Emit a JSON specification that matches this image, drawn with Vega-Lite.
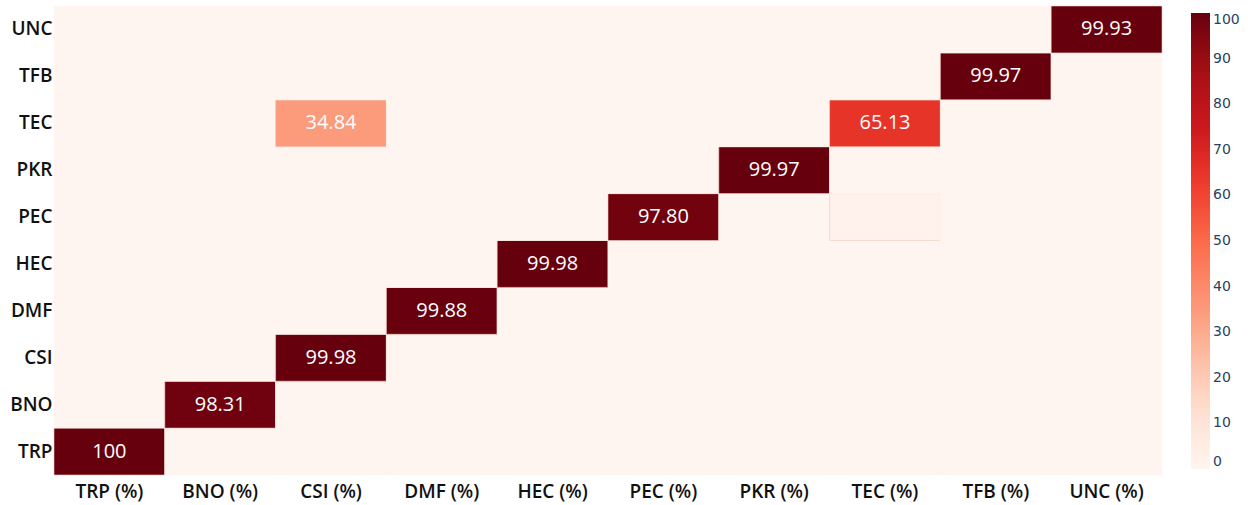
{
  "$schema": "https://vega.github.io/schema/vega-lite/v6.json",
  "autosize": {"type": "none"},
  "width": 1108,
  "height": 469,
  "padding": {"left": 54, "top": 6, "right": 86, "bottom": 30},
  "background": "white",
  "config": {"view": {"stroke": null}},
  "data": {"values": [
    {"x": "TRP (%)", "y": "TRP", "value": 100, "label": "100"},
    {"x": "BNO (%)", "y": "TRP", "value": 0, "label": ""},
    {"x": "CSI (%)", "y": "TRP", "value": 0, "label": ""},
    {"x": "DMF (%)", "y": "TRP", "value": 0, "label": ""},
    {"x": "HEC (%)", "y": "TRP", "value": 0, "label": ""},
    {"x": "PEC (%)", "y": "TRP", "value": 0, "label": ""},
    {"x": "PKR (%)", "y": "TRP", "value": 0, "label": ""},
    {"x": "TEC (%)", "y": "TRP", "value": 0, "label": ""},
    {"x": "TFB (%)", "y": "TRP", "value": 0, "label": ""},
    {"x": "UNC (%)", "y": "TRP", "value": 0, "label": ""},
    {"x": "TRP (%)", "y": "BNO", "value": 0, "label": ""},
    {"x": "BNO (%)", "y": "BNO", "value": 98.31, "label": "98.31"},
    {"x": "CSI (%)", "y": "BNO", "value": 0, "label": ""},
    {"x": "DMF (%)", "y": "BNO", "value": 0, "label": ""},
    {"x": "HEC (%)", "y": "BNO", "value": 0, "label": ""},
    {"x": "PEC (%)", "y": "BNO", "value": 0, "label": ""},
    {"x": "PKR (%)", "y": "BNO", "value": 0, "label": ""},
    {"x": "TEC (%)", "y": "BNO", "value": 0, "label": ""},
    {"x": "TFB (%)", "y": "BNO", "value": 0, "label": ""},
    {"x": "UNC (%)", "y": "BNO", "value": 0, "label": ""},
    {"x": "TRP (%)", "y": "CSI", "value": 0, "label": ""},
    {"x": "BNO (%)", "y": "CSI", "value": 0, "label": ""},
    {"x": "CSI (%)", "y": "CSI", "value": 99.98, "label": "99.98"},
    {"x": "DMF (%)", "y": "CSI", "value": 0, "label": ""},
    {"x": "HEC (%)", "y": "CSI", "value": 0, "label": ""},
    {"x": "PEC (%)", "y": "CSI", "value": 0, "label": ""},
    {"x": "PKR (%)", "y": "CSI", "value": 0, "label": ""},
    {"x": "TEC (%)", "y": "CSI", "value": 0, "label": ""},
    {"x": "TFB (%)", "y": "CSI", "value": 0, "label": ""},
    {"x": "UNC (%)", "y": "CSI", "value": 0, "label": ""},
    {"x": "TRP (%)", "y": "DMF", "value": 0, "label": ""},
    {"x": "BNO (%)", "y": "DMF", "value": 0, "label": ""},
    {"x": "CSI (%)", "y": "DMF", "value": 0, "label": ""},
    {"x": "DMF (%)", "y": "DMF", "value": 99.88, "label": "99.88"},
    {"x": "HEC (%)", "y": "DMF", "value": 0, "label": ""},
    {"x": "PEC (%)", "y": "DMF", "value": 0, "label": ""},
    {"x": "PKR (%)", "y": "DMF", "value": 0, "label": ""},
    {"x": "TEC (%)", "y": "DMF", "value": 0, "label": ""},
    {"x": "TFB (%)", "y": "DMF", "value": 0, "label": ""},
    {"x": "UNC (%)", "y": "DMF", "value": 0, "label": ""},
    {"x": "TRP (%)", "y": "HEC", "value": 0, "label": ""},
    {"x": "BNO (%)", "y": "HEC", "value": 0, "label": ""},
    {"x": "CSI (%)", "y": "HEC", "value": 0, "label": ""},
    {"x": "DMF (%)", "y": "HEC", "value": 0, "label": ""},
    {"x": "HEC (%)", "y": "HEC", "value": 99.98, "label": "99.98"},
    {"x": "PEC (%)", "y": "HEC", "value": 0, "label": ""},
    {"x": "PKR (%)", "y": "HEC", "value": 0, "label": ""},
    {"x": "TEC (%)", "y": "HEC", "value": 0, "label": ""},
    {"x": "TFB (%)", "y": "HEC", "value": 0, "label": ""},
    {"x": "UNC (%)", "y": "HEC", "value": 0, "label": ""},
    {"x": "TRP (%)", "y": "PEC", "value": 0, "label": ""},
    {"x": "BNO (%)", "y": "PEC", "value": 0, "label": ""},
    {"x": "CSI (%)", "y": "PEC", "value": 0, "label": ""},
    {"x": "DMF (%)", "y": "PEC", "value": 0, "label": ""},
    {"x": "HEC (%)", "y": "PEC", "value": 0, "label": ""},
    {"x": "PEC (%)", "y": "PEC", "value": 97.8, "label": "97.80"},
    {"x": "PKR (%)", "y": "PEC", "value": 0, "label": ""},
    {"x": "TEC (%)", "y": "PEC", "value": 2.2, "label": ""},
    {"x": "TFB (%)", "y": "PEC", "value": 0, "label": ""},
    {"x": "UNC (%)", "y": "PEC", "value": 0, "label": ""},
    {"x": "TRP (%)", "y": "PKR", "value": 0, "label": ""},
    {"x": "BNO (%)", "y": "PKR", "value": 0, "label": ""},
    {"x": "CSI (%)", "y": "PKR", "value": 0, "label": ""},
    {"x": "DMF (%)", "y": "PKR", "value": 0, "label": ""},
    {"x": "HEC (%)", "y": "PKR", "value": 0, "label": ""},
    {"x": "PEC (%)", "y": "PKR", "value": 0, "label": ""},
    {"x": "PKR (%)", "y": "PKR", "value": 99.97, "label": "99.97"},
    {"x": "TEC (%)", "y": "PKR", "value": 0, "label": ""},
    {"x": "TFB (%)", "y": "PKR", "value": 0, "label": ""},
    {"x": "UNC (%)", "y": "PKR", "value": 0, "label": ""},
    {"x": "TRP (%)", "y": "TEC", "value": 0, "label": ""},
    {"x": "BNO (%)", "y": "TEC", "value": 0, "label": ""},
    {"x": "CSI (%)", "y": "TEC", "value": 34.84, "label": "34.84"},
    {"x": "DMF (%)", "y": "TEC", "value": 0, "label": ""},
    {"x": "HEC (%)", "y": "TEC", "value": 0, "label": ""},
    {"x": "PEC (%)", "y": "TEC", "value": 0, "label": ""},
    {"x": "PKR (%)", "y": "TEC", "value": 0, "label": ""},
    {"x": "TEC (%)", "y": "TEC", "value": 65.13, "label": "65.13"},
    {"x": "TFB (%)", "y": "TEC", "value": 0, "label": ""},
    {"x": "UNC (%)", "y": "TEC", "value": 0, "label": ""},
    {"x": "TRP (%)", "y": "TFB", "value": 0, "label": ""},
    {"x": "BNO (%)", "y": "TFB", "value": 0, "label": ""},
    {"x": "CSI (%)", "y": "TFB", "value": 0, "label": ""},
    {"x": "DMF (%)", "y": "TFB", "value": 0, "label": ""},
    {"x": "HEC (%)", "y": "TFB", "value": 0, "label": ""},
    {"x": "PEC (%)", "y": "TFB", "value": 0, "label": ""},
    {"x": "PKR (%)", "y": "TFB", "value": 0, "label": ""},
    {"x": "TEC (%)", "y": "TFB", "value": 0, "label": ""},
    {"x": "TFB (%)", "y": "TFB", "value": 99.97, "label": "99.97"},
    {"x": "UNC (%)", "y": "TFB", "value": 0, "label": ""},
    {"x": "TRP (%)", "y": "UNC", "value": 0, "label": ""},
    {"x": "BNO (%)", "y": "UNC", "value": 0, "label": ""},
    {"x": "CSI (%)", "y": "UNC", "value": 0, "label": ""},
    {"x": "DMF (%)", "y": "UNC", "value": 0, "label": ""},
    {"x": "HEC (%)", "y": "UNC", "value": 0, "label": ""},
    {"x": "PEC (%)", "y": "UNC", "value": 0, "label": ""},
    {"x": "PKR (%)", "y": "UNC", "value": 0, "label": ""},
    {"x": "TEC (%)", "y": "UNC", "value": 0, "label": ""},
    {"x": "TFB (%)", "y": "UNC", "value": 0, "label": ""},
    {"x": "UNC (%)", "y": "UNC", "value": 99.93, "label": "99.93"}
  ]},
  "encoding": {
    "x": {"field": "x", "type": "nominal",
      "scale": {"domain": ["TRP (%)", "BNO (%)", "CSI (%)", "DMF (%)", "HEC (%)", "PEC (%)", "PKR (%)", "TEC (%)", "TFB (%)", "UNC (%)"], "paddingInner": 0, "paddingOuter": 0},
      "axis": {"title": null, "orient": "bottom", "labelAngle": 0, "domain": false, "ticks": false, "labelPadding": 7, "labelFont": "Open Sans", "labelFontSize": 19, "labelFontWeight": 600, "labelColor": "#111111"}},
    "y": {"field": "y", "type": "nominal",
      "scale": {"domain": ["UNC", "TFB", "TEC", "PKR", "PEC", "HEC", "DMF", "CSI", "BNO", "TRP"], "paddingInner": 0, "paddingOuter": 0},
      "axis": {"title": null, "domain": false, "ticks": false, "labelPadding": 2, "labelFont": "Open Sans", "labelFontSize": 19, "labelFontWeight": 600, "labelColor": "#111111"}}
  },
  "layer": [
    {"mark": {"type": "rect"},
     "encoding": {
       "color": {"field": "value", "type": "quantitative",
         "scale": {"domain": [0, 100], "range": ["#fff5f0", "#fee0d2", "#fcbba1", "#fc9272", "#fb6a4a", "#ef3b2c", "#cb181d", "#a50f15", "#67000d"], "interpolate": "rgb"},
         "legend": {"title": null, "orient": "none", "legendX": 1137, "legendY": 7, "direction": "vertical", "gradientLength": 456, "gradientThickness": 19, "gradientStrokeWidth": 0, "values": [0,10,20,30,40,50,60,70,80,90,100], "labelFont": "DejaVu Sans", "labelFontSize": 14, "labelColor": "#2a3f5f", "labelOffset": 3, "padding": 0, "labelOverlap": false}},
       "stroke": {"condition": {"test": "datum.value > 0", "value": "#f3c9bb"}, "value": "#fff5f0"},
       "strokeWidth": {"value": 0.6}}},
    {"mark": {"type": "text", "font": "Open Sans", "fontSize": 20, "color": "#ffffff"},
     "encoding": {"text": {"field": "label"}}}
  ]
}
